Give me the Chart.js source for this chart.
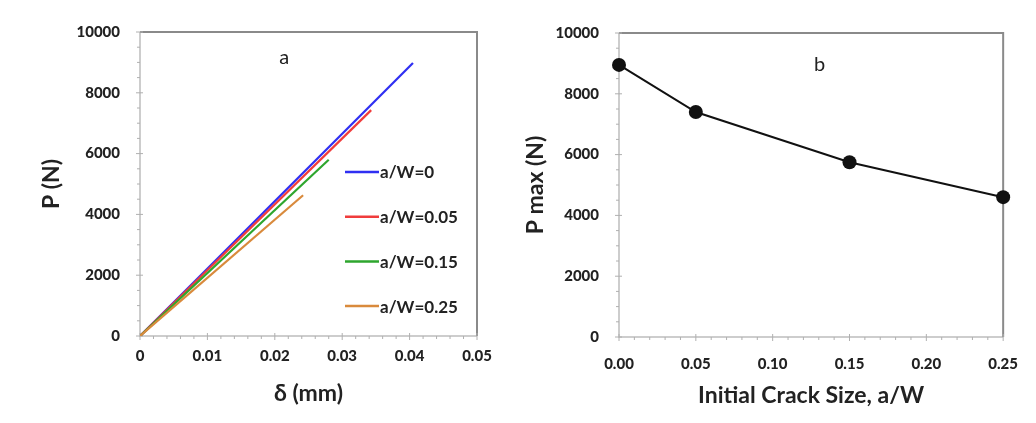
<!DOCTYPE html>
<html>
<head>
<meta charset="utf-8">
<script src="https://cdn.jsdelivr.net/npm/chart.js@4/dist/chart.umd.min.js"></script>
<style>
  html, body { margin: 0; padding: 0; background: #fff; }
  #wrap { position: relative; width: 1036px; height: 423px; }
  .panel { position: absolute; top: 0; height: 423px; }
  #left { left: 0; width: 520px; }
  #right { left: 520px; width: 516px; }
</style>
</head>
<body>
<div id="wrap">
  <div class="panel" id="left"><canvas id="chartA"></canvas></div>
  <div class="panel" id="right"><canvas id="chartB"></canvas></div>
</div>
<script>
// (a) load-displacement curves, one per initial crack size
const curveLabels = ['a/W=0', 'a/W=0.05', 'a/W=0.15', 'a/W=0.25'];
const curveColors = ['#2f2ff2', '#f03c3c', '#2ea62e', '#d98a3c'];
const deltaEnd = [0.0405, 0.0343, 0.0280, 0.0242];   // mm, end of each curve
const loadEnd = [8980, 7430, 5800, 4630];            // N, end of each curve

// (b) max load vs crack size
const crackSize = [0, 0.05, 0.15, 0.25];
const pMax = [8950, 7400, 5750, 4600];

const deltaTicks = [0, 0.01, 0.02, 0.03, 0.04, 0.05];
const crackTicks = [0, 0.05, 0.10, 0.15, 0.20, 0.25];
const loadTicks = [0, 2000, 4000, 6000, 8000, 10000];

const FONT = 'Lato, "Open Sans", sans-serif';
const TEXT = '#222';

// frame + minor ticks, like the Excel look
const framePlugin = {
  id: 'frame',
  beforeDatasetsDraw(chart, args, opts) {
    const { ctx, chartArea: a } = chart;
    const xs = chart.scales.x, ys = chart.scales.y;
    ctx.save();
    // axis lines
    ctx.strokeStyle = '#bdbdbd';
    ctx.lineWidth = 1.5;
    ctx.beginPath();
    ctx.moveTo(a.left, a.top); ctx.lineTo(a.left, a.bottom); ctx.lineTo(a.right, a.bottom);
    ctx.stroke();
    // top / right border
    ctx.strokeStyle = '#8a8a8a';
    ctx.lineWidth = 2;
    ctx.beginPath();
    ctx.moveTo(a.left, a.top); ctx.lineTo(a.right, a.top); ctx.lineTo(a.right, a.bottom);
    ctx.stroke();

    ctx.strokeStyle = '#b0b0b0';
    ctx.lineWidth = 1;
    const xt = xs.ticks.map(t => t.value);
    const yt = ys.ticks.map(t => t.value);
    ctx.beginPath();
    xt.forEach((v, i) => {
      const px = xs.getPixelForValue(v);
      ctx.moveTo(px, a.bottom - 3); ctx.lineTo(px, a.bottom + 4);
      if (i < xt.length - 1) {
        for (let k = 1; k < opts.minorX; k++) {
          const mv = v + (xt[i + 1] - v) * k / opts.minorX;
          const mp = xs.getPixelForValue(mv);
          ctx.moveTo(mp, a.bottom); ctx.lineTo(mp, a.bottom + 3);
        }
      }
    });
    yt.forEach((v, i) => {
      const py = ys.getPixelForValue(v);
      ctx.moveTo(a.left - 4, py); ctx.lineTo(a.left + 3, py);
      if (i < yt.length - 1) {
        for (let k = 1; k < opts.minorY; k++) {
          const mv = v + (yt[i + 1] - v) * k / opts.minorY;
          const mp = ys.getPixelForValue(mv);
          ctx.moveTo(a.left - 3, mp); ctx.lineTo(a.left, mp);
        }
      }
    });
    ctx.stroke();

    // panel letter
    ctx.fillStyle = TEXT;
    ctx.font = '20px ' + FONT;
    ctx.textAlign = 'center';
    ctx.textBaseline = 'middle';
    ctx.fillText(opts.letter, a.left + (a.right - a.left) * opts.letterX, a.top + opts.letterY);
    ctx.restore();
  }
};

// legend drawn inside the plot area (left panel)
const innerLegend = {
  id: 'innerLegend',
  afterDatasetsDraw(chart, args, opts) {
    if (!opts.show) return;
    const { ctx, chartArea: a } = chart;
    ctx.save();
    ctx.font = 'bold 17px ' + FONT;
    ctx.textBaseline = 'middle';
    ctx.textAlign = 'left';
    chart.data.datasets.forEach((ds, i) => {
      const y = a.top + 140 + i * 44.7;
      const x = a.left + 205;
      ctx.strokeStyle = ds.borderColor;
      ctx.lineWidth = 2.5;
      ctx.beginPath();
      ctx.moveTo(x, y); ctx.lineTo(x + 34, y);
      ctx.stroke();
      ctx.fillStyle = TEXT;
      ctx.fillText(ds.label, x + 35, y + 1);
    });
    ctx.restore();
  }
};

function axisX(ticks, fmt, h, title, tickPad, titlePad) {
  return {
    type: 'linear',
    min: ticks[0], max: ticks[ticks.length - 1],
    afterBuildTicks: s => { s.ticks = ticks.map(v => ({ value: v })); },
    afterFit: s => { s.height = h; },
    grid: { display: false, drawTicks: false },
    border: { display: false },
    ticks: {
      padding: tickPad, color: TEXT, maxRotation: 0, autoSkip: false,
      font: { family: FONT, size: 15, weight: '900' },
      callback: fmt,
    },
    title: {
      display: true, text: title, color: TEXT,
      font: { family: FONT, size: 23, weight: 'bold' },
      padding: titlePad,
    },
  };
}

function axisY(w, title, titlePad) {
  return {
    type: 'linear',
    min: 0, max: 10000,
    afterBuildTicks: s => { s.ticks = loadTicks.map(v => ({ value: v })); },
    afterFit: s => { s.width = w; },
    grid: { display: false, drawTicks: false },
    border: { display: false },
    ticks: {
      padding: 20, color: TEXT,
      font: { family: FONT, size: 15, weight: '900' },
      callback: v => String(v),
    },
    title: {
      display: true, text: title, color: TEXT,
      font: { family: FONT, size: 23, weight: 'bold' },
      padding: titlePad,
    },
  };
}

new Chart(document.getElementById('chartA'), {
  type: 'scatter',
  data: {
    datasets: curveLabels.map((lab, i) => ({
      label: lab,
      data: [{ x: 0, y: 0 }, { x: deltaEnd[i], y: loadEnd[i] }],
      showLine: true,
      borderColor: curveColors[i],
      backgroundColor: curveColors[i],
      borderWidth: 2.2,
      pointRadius: 0,
      order: curveLabels.length - i,
    })),
  },
  options: {
    responsive: true,
    maintainAspectRatio: false,
    animation: false,
    layout: { padding: { left: 0, right: 43, top: 32, bottom: 0 } },
    scales: {
      x: axisX(deltaTicks, v => String(v), 87, 'δ (mm)', 11, { top: 0, bottom: 16 }),
      y: axisY(140, 'P (N)', { top: 38, bottom: 0 }),
    },
    plugins: {
      legend: { display: false },
      tooltip: { enabled: false },
      frame: { minorX: 5, minorY: 4, letter: 'a', letterX: 0.428, letterY: 26 },
      innerLegend: { show: true },
    },
  },
  plugins: [framePlugin, innerLegend],
});

new Chart(document.getElementById('chartB'), {
  type: 'line',
  data: {
    datasets: [{
      label: 'P max',
      data: crackSize.map((c, i) => ({ x: c, y: pMax[i] })),
      borderColor: '#111',
      backgroundColor: '#111',
      borderWidth: 2,
      pointRadius: 7,
      pointBorderWidth: 0,
      tension: 0,
      clip: false,
    }],
  },
  options: {
    responsive: true,
    maintainAspectRatio: false,
    animation: false,
    layout: { padding: { left: 0, right: 24, top: 33, bottom: 0 } },
    scales: {
      x: axisX(crackTicks, v => v.toFixed(2), 86, 'Initial Crack Size, a/W', 18, { top: 0, bottom: 14 }),
      y: axisY(99, 'P max (N)', { top: 2, bottom: 0 }),
    },
    plugins: {
      legend: { display: false },
      tooltip: { enabled: false },
      frame: { minorX: 5, minorY: 4, letter: 'b', letterX: 0.522, letterY: 32 },
      innerLegend: { show: false },
    },
  },
  plugins: [framePlugin, innerLegend],
});
</script>
</body>
</html>
